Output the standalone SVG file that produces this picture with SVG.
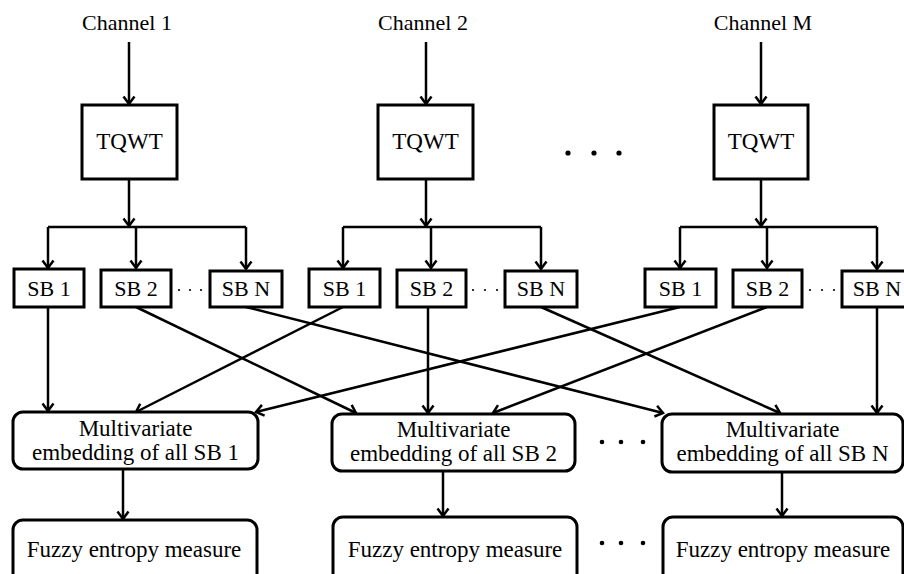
<svg xmlns="http://www.w3.org/2000/svg" width="904" height="574" viewBox="0 0 904 574" font-family="'Liberation Serif', 'DejaVu Serif', 'Times New Roman', serif">
<defs>
<marker id="ah" markerUnits="userSpaceOnUse" markerWidth="20" markerHeight="20" refX="0" refY="0" viewBox="-10 -10 20 20" orient="auto" overflow="visible">
<path d="M-7.5,-5.5 L0,0 L-7.5,5.5" fill="none" stroke="#000" stroke-width="2.5"/>
</marker>
<style>
text{font-family:'Liberation Serif','DejaVu Serif','Times New Roman',serif;font-size:22px;fill:#000;text-anchor:middle}
.L{font-size:23px}
.b{fill:#fff;stroke:#000;stroke-width:3}
.c line{stroke:#000;stroke-width:2.5;fill:none}
.a{marker-end:url(#ah)}
.d{fill:#000}
</style>
</defs>
<rect width="904" height="574" fill="#fff"/>
<g class="c" id="connectors">
<line class="a" x1="129" y1="42" x2="129" y2="104"/>
<line class="a" x1="426" y1="42" x2="426" y2="104"/>
<line class="a" x1="761" y1="42" x2="761" y2="104"/>
<line class="a" x1="129" y1="180" x2="129" y2="226"/>
<line class="a" x1="426" y1="180" x2="426" y2="226"/>
<line class="a" x1="761" y1="180" x2="761" y2="226"/>
<line x1="48" y1="227" x2="246" y2="227"/>
<line class="a" x1="48" y1="227" x2="48" y2="268"/>
<line class="a" x1="136" y1="227" x2="136" y2="268"/>
<line class="a" x1="246" y1="227" x2="246" y2="269"/>
<line x1="343" y1="227" x2="541" y2="227"/>
<line class="a" x1="343" y1="227" x2="343" y2="268"/>
<line class="a" x1="431" y1="227" x2="431" y2="268"/>
<line class="a" x1="541" y1="227" x2="541" y2="269"/>
<line x1="680" y1="227" x2="877" y2="227"/>
<line class="a" x1="680" y1="227" x2="680" y2="268"/>
<line class="a" x1="767" y1="227" x2="767" y2="268"/>
<line class="a" x1="877" y1="227" x2="877" y2="269"/>
<line class="a" x1="48" y1="307" x2="48" y2="411"/>
<line class="a" x1="136" y1="307" x2="356" y2="413"/>
<line class="a" x1="246" y1="307" x2="663" y2="413"/>
<line class="a" x1="343" y1="307" x2="136" y2="412"/>
<line class="a" x1="428" y1="307" x2="428" y2="413"/>
<line class="a" x1="541" y1="307" x2="780" y2="413"/>
<line class="a" x1="680" y1="307" x2="256" y2="412"/>
<line class="a" x1="767" y1="307" x2="493" y2="413"/>
<line class="a" x1="877" y1="307" x2="877" y2="413"/>
<line class="a" x1="123" y1="470" x2="123" y2="519"/>
<line class="a" x1="443" y1="472" x2="443" y2="516"/>
<line class="a" x1="782" y1="473" x2="782" y2="516"/>
</g>
<g id="ch1"><text x="127" y="30">Channel 1</text></g>
<g id="ch2"><text x="423" y="30">Channel 2</text></g>
<g id="chM"><text x="763" y="30">Channel M</text></g>
<g id="tqwt1"><rect class="b" x="82" y="105" width="95" height="74"/><text class="L" x="129.5" y="149">TQWT</text></g>
<g id="tqwt2"><rect class="b" x="378" y="105" width="95" height="74"/><text class="L" x="425.5" y="149">TQWT</text></g>
<g id="tqwtM"><rect class="b" x="714" y="105" width="94" height="74"/><text class="L" x="761" y="149">TQWT</text></g>
<g id="dots-top"><circle class="d" cx="568" cy="153" r="2.6"/><circle class="d" cx="594" cy="153" r="2.6"/><circle class="d" cx="619" cy="153" r="2.6"/></g>
<g id="sb1-1"><rect class="b" x="14" y="269" width="70" height="38"/><text x="49" y="296">SB 1</text></g>
<g id="sb1-2"><rect class="b" x="101" y="270" width="70" height="37"/><text x="136" y="296">SB 2</text></g>
<g id="sb1-N"><rect class="b" x="210" y="271" width="72" height="36"/><text x="246" y="296">SB N</text></g>
<g id="sb2-1"><rect class="b" x="309" y="269" width="71" height="38"/><text x="344.5" y="296">SB 1</text></g>
<g id="sb2-2"><rect class="b" x="397" y="270" width="69" height="37"/><text x="431.5" y="296">SB 2</text></g>
<g id="sb2-N"><rect class="b" x="505" y="271" width="72" height="36"/><text x="541" y="296">SB N</text></g>
<g id="sbM-1"><rect class="b" x="645" y="269" width="71" height="38"/><text x="680.5" y="296">SB 1</text></g>
<g id="sbM-2"><rect class="b" x="733" y="270" width="69" height="37"/><text x="767.5" y="296">SB 2</text></g>
<g id="sbM-N"><rect class="b" x="842" y="271" width="72" height="36"/><text x="877" y="296">SB N</text></g>
<g id="dots-sb">
<circle class="d" cx="179" cy="290" r="1.1"/><circle class="d" cx="190" cy="290" r="1.1"/><circle class="d" cx="201" cy="290" r="1.1"/>
<circle class="d" cx="473" cy="290" r="1.1"/><circle class="d" cx="485" cy="290" r="1.1"/><circle class="d" cx="497" cy="290" r="1.1"/>
<circle class="d" cx="810" cy="290" r="1.1"/><circle class="d" cx="822" cy="290" r="1.1"/><circle class="d" cx="834" cy="290" r="1.1"/>
</g>
<g id="me1"><rect class="b" x="13" y="412" width="245" height="57" rx="10"/><text class="L" x="135.5" y="436">Multivariate</text><text class="L" x="135.5" y="460">embedding of all SB 1</text></g>
<g id="me2"><rect class="b" x="332" y="414" width="243" height="57" rx="10"/><text class="L" x="453.5" y="437">Multivariate</text><text class="L" x="453.5" y="461">embedding of all SB 2</text></g>
<g id="meN"><rect class="b" x="662" y="414" width="241" height="58" rx="10"/><text class="L" x="782.5" y="437">Multivariate</text><text class="L" x="782.5" y="461">embedding of all SB N</text></g>
<g id="dots-me"><circle class="d" cx="602" cy="442" r="2.3"/><circle class="d" cx="621" cy="442" r="2.3"/><circle class="d" cx="643" cy="442" r="2.3"/></g>
<g id="fe1"><rect class="b" x="13" y="520" width="244" height="70" rx="10"/><text class="L" x="134" y="557">Fuzzy entropy measure</text></g>
<g id="fe2"><rect class="b" x="333" y="517" width="244" height="73" rx="10"/><text class="L" x="455" y="557">Fuzzy entropy measure</text></g>
<g id="feN"><rect class="b" x="663" y="517" width="240" height="73" rx="10"/><text class="L" x="783" y="557">Fuzzy entropy measure</text></g>
<g id="dots-fe"><circle class="d" cx="602" cy="543" r="2.3"/><circle class="d" cx="621" cy="543" r="2.3"/><circle class="d" cx="643" cy="543" r="2.3"/></g>
</svg>
